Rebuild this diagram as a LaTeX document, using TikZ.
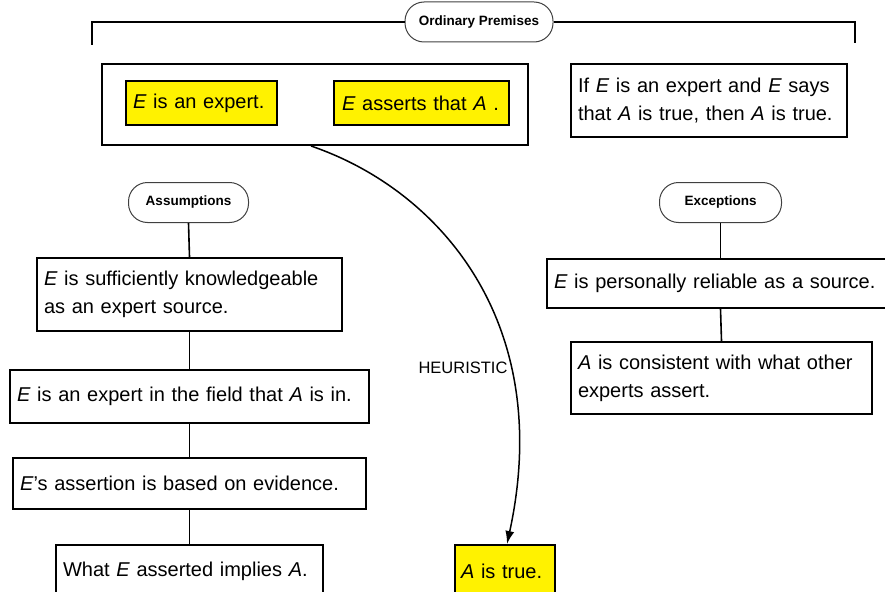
\documentclass[tikz,border=0pt]{standalone}
\usepackage{fontspec}
\setmainfont{Liberation Sans}
\usetikzlibrary{arrows.meta,calc}
\begin{document}
\begin{tikzpicture}[x=1pt,y=-1pt,
  box/.style={draw, line width=2pt, inner xsep=7pt, inner ysep=0pt, align=left,
    anchor=north west, font=\fontsize{20}{28}\selectfont},
  ybox/.style={box, fill=yellow},
  pill/.style={draw=black!75, line width=1pt, rounded corners=19pt, inner sep=0pt,
    font=\fontsize{13.5}{16}\selectfont\bfseries, minimum height=40pt},
  link/.style={line width=1.6pt},
  arrowlink/.style={line width=1.5pt, -{Latex[length=13pt,width=9pt]}}]
\useasboundingbox (0,0) rectangle (885,591);
\clip (0,0) rectangle (885,591);
% header bracket
\node[pill, minimum width=148pt] (op) at (479,22) {Ordinary Premises};
\coordinate (bl) at (92,45);
\coordinate (br) at (855,43);
\draw[link] (op.west) -- (bl |- op.west) -- (bl);
\draw[link] (op.east) -- (br |- op.east) -- (br);
% premises
\node[box, minimum width=426pt, minimum height=81pt, inner sep=0pt] (outer) at (101,63) {};
\node[ybox, text width=137pt, minimum height=44pt] (y1) at (125,80) {\textit{E} is an expert.};
\node[ybox, text width=159pt, inner xsep=8pt, minimum height=44pt] (y2) at (333,80) {\textit{E} asserts that \textit{A} .};
\node[box, text width=262pt, minimum height=73pt] (rule) at (570,63) {If \textit{E} is an expert and \textit{E} says\\that \textit{A} is true, then \textit{A} is true.};
% assumptions
\node[pill, minimum width=120pt] (as) at (188.5,202.5) {Assumptions};
\node[box, text width=291pt, minimum height=73pt] (a1) at (36,257) {\textit{E} is sufficiently knowledgeable\\as an expert source.};
\node[box, text width=345pt, minimum height=53pt] (a2) at (9,369) {\textit{E} is an expert in the field that \textit{A} is in.};
\node[box, text width=339pt, minimum height=51pt] (a3) at (12,457) {\textit{E}'s assertion is based on evidence.};
\node[box, text width=253pt, minimum height=52pt] (a4) at (55,544) {What \textit{E} asserted implies \textit{A}.};
\draw[link] (as.south) -- (a1.north);
\draw[link] (a1.south) -- (a2.north);
\draw[link] (a2.south) -- (a3.north);
\draw[link] (a3.south) -- (a4.north);
% exceptions
\node[pill, minimum width=122pt] (ex) at (720.5,202.5) {Exceptions};
\node[box, text width=331pt, minimum height=49pt] (x1) at (546,258) {\textit{E} is personally reliable as a source.};
\node[box, text width=287pt, minimum height=72pt] (x2) at (570,341) {\textit{A} is consistent with what other\\experts assert.};
\draw[link] (ex.south) -- (ex.south |- x1.north);
\draw[link] (ex.south |- x1.south) -- (x2.north);
% conclusion
\node[ybox, text width=88pt, inner xsep=6pt, minimum height=52pt] (at) at (454,544) {\textit{A} is true.};
\draw[arrowlink] ([xshift=-4pt]outer.south) .. controls (440,190) and (555,323) .. ([xshift=2pt]at.north);
\node[font=\fontsize{16.5}{20}\selectfont] (heur) at (463,368) {HEURISTIC};
\end{tikzpicture}
\end{document}
